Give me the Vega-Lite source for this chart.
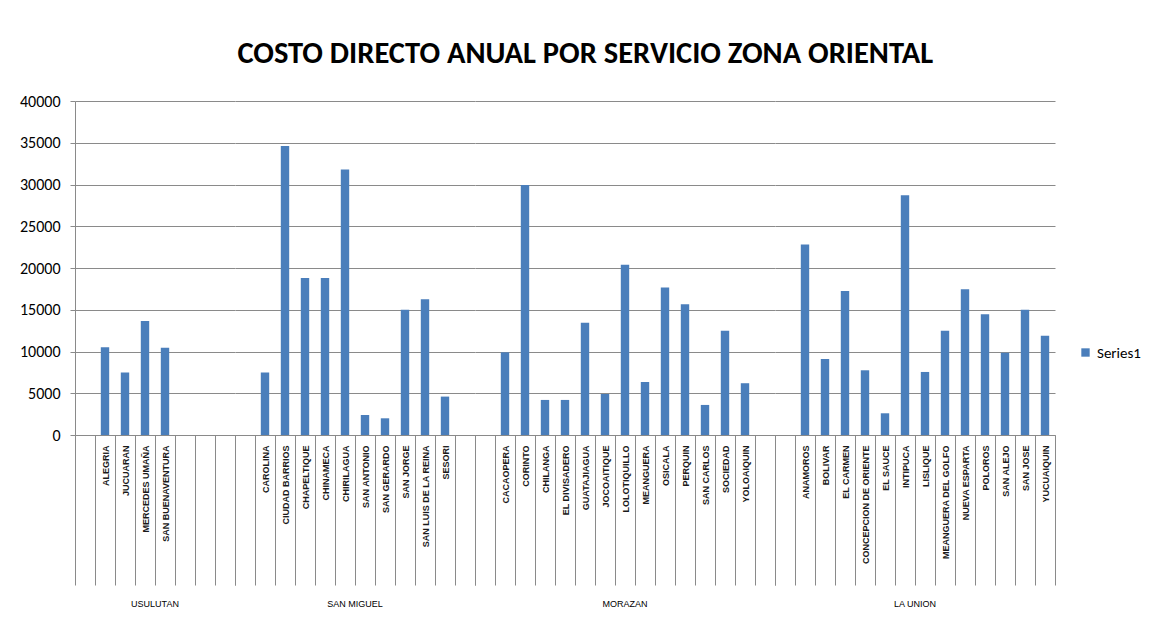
{
  "$schema": "https://vega.github.io/schema/vega-lite/v6.json",
  "background": "white",
  "padding": {"left": 19, "top": 38, "right": 5, "bottom": 5},
  "bounds": "flush",
  "title": {
    "text": "COSTO DIRECTO ANUAL POR SERVICIO ZONA ORIENTAL",
    "font": "Carlito, Liberation Sans Narrow, Liberation Sans",
    "fontSize": 30.5,
    "fontWeight": "bold",
    "color": "#000000",
    "anchor": "middle",
    "offset": 24,
    "dx": 5
  },
  "data": {
    "values": [
      {"zona": "USULUTAN", "municipio": "_1", "costo": null},
      {"zona": "USULUTAN", "municipio": "ALEGRIA", "costo": 10500},
      {"zona": "USULUTAN", "municipio": "JUCUARAN", "costo": 7500},
      {"zona": "USULUTAN", "municipio": "MERCEDES UMAÑA", "costo": 13650},
      {"zona": "USULUTAN", "municipio": "SAN BUENAVENTURA", "costo": 10450},
      {"zona": "USULUTAN", "municipio": "_2", "costo": null},
      {"zona": "USULUTAN", "municipio": "_3", "costo": null},
      {"zona": "USULUTAN", "municipio": "_4", "costo": null},
      {"zona": "SAN MIGUEL", "municipio": "_5", "costo": null},
      {"zona": "SAN MIGUEL", "municipio": "CAROLINA", "costo": 7500},
      {"zona": "SAN MIGUEL", "municipio": "CIUDAD BARRIOS", "costo": 34600},
      {"zona": "SAN MIGUEL", "municipio": "CHAPELTIQUE", "costo": 18800},
      {"zona": "SAN MIGUEL", "municipio": "CHINAMECA", "costo": 18800},
      {"zona": "SAN MIGUEL", "municipio": "CHIRILAGUA", "costo": 31800},
      {"zona": "SAN MIGUEL", "municipio": "SAN ANTONIO", "costo": 2400},
      {"zona": "SAN MIGUEL", "municipio": "SAN GERARDO", "costo": 2000},
      {"zona": "SAN MIGUEL", "municipio": "SAN JORGE", "costo": 15000},
      {"zona": "SAN MIGUEL", "municipio": "SAN LUIS DE LA REINA", "costo": 16250},
      {"zona": "SAN MIGUEL", "municipio": "SESORI", "costo": 4600},
      {"zona": "SAN MIGUEL", "municipio": "_6", "costo": null},
      {"zona": "MORAZAN", "municipio": "_7", "costo": null},
      {"zona": "MORAZAN", "municipio": "CACAOPERA", "costo": 9900},
      {"zona": "MORAZAN", "municipio": "CORINTO", "costo": 29950},
      {"zona": "MORAZAN", "municipio": "CHILANGA", "costo": 4200},
      {"zona": "MORAZAN", "municipio": "EL DIVISADERO", "costo": 4200},
      {"zona": "MORAZAN", "municipio": "GUATAJIAGUA", "costo": 13450},
      {"zona": "MORAZAN", "municipio": "JOCOAITIQUE", "costo": 4900},
      {"zona": "MORAZAN", "municipio": "LOLOTIQUILLO", "costo": 20400},
      {"zona": "MORAZAN", "municipio": "MEANGUERA", "costo": 6350},
      {"zona": "MORAZAN", "municipio": "OSICALA", "costo": 17650},
      {"zona": "MORAZAN", "municipio": "PERQUIN", "costo": 15650},
      {"zona": "MORAZAN", "municipio": "SAN CARLOS", "costo": 3600},
      {"zona": "MORAZAN", "municipio": "SOCIEDAD", "costo": 12500},
      {"zona": "MORAZAN", "municipio": "YOLOAIQUIN", "costo": 6200},
      {"zona": "MORAZAN", "municipio": "_8", "costo": null},
      {"zona": "LA UNION", "municipio": "_9", "costo": null},
      {"zona": "LA UNION", "municipio": "ANAMOROS", "costo": 22800},
      {"zona": "LA UNION", "municipio": "BOLIVAR", "costo": 9100},
      {"zona": "LA UNION", "municipio": "EL CARMEN", "costo": 17250},
      {"zona": "LA UNION", "municipio": "CONCEPCION DE ORIENTE", "costo": 7750},
      {"zona": "LA UNION", "municipio": "EL SAUCE", "costo": 2600},
      {"zona": "LA UNION", "municipio": "INTIPUCA", "costo": 28700},
      {"zona": "LA UNION", "municipio": "LISLIQUE", "costo": 7550},
      {"zona": "LA UNION", "municipio": "MEANGUERA DEL GOLFO", "costo": 12500},
      {"zona": "LA UNION", "municipio": "NUEVA ESPARTA", "costo": 17450},
      {"zona": "LA UNION", "municipio": "POLOROS", "costo": 14450},
      {"zona": "LA UNION", "municipio": "SAN ALEJO", "costo": 9850},
      {"zona": "LA UNION", "municipio": "SAN JOSE", "costo": 15000},
      {"zona": "LA UNION", "municipio": "YUCUAIQUIN", "costo": 11900}
    ]
  },
  "facet": {
    "column": {
      "field": "zona",
      "type": "nominal",
      "sort": ["USULUTAN", "SAN MIGUEL", "MORAZAN", "LA UNION"],
      "header": {
        "title": null,
        "labelOrient": "bottom",
        "labelFont": "Liberation Sans",
        "labelFontSize": 9,
        "labelColor": "#000000",
        "labelPadding": 165
      }
    }
  },
  "spacing": 0,
  "resolve": {"scale": {"x": "independent"}},
  "spec": {
    "width": {"step": 20},
    "height": 334,
    "mark": {"type": "bar", "width": {"band": 0.42}, "invalid": "show"},
    "encoding": {
      "x": {
        "field": "municipio",
        "type": "nominal",
        "sort": null,
        "scale": {"paddingInner": 0, "paddingOuter": 0},
        "axis": {
          "title": null,
          "labelAngle": -90,
          "labelAlign": "right",
          "labelBaseline": "middle",
          "labelExpr": "slice(datum.label, 0, 1) == '_' ? '' : datum.label",
          "labelFont": "Liberation Sans",
          "labelFontSize": 9,
          "labelFontWeight": "bold",
          "labelColor": "#1a1a1a",
          "labelPadding": -140,
          "tickBand": "extent",
          "tickSize": 150,
          "tickColor": "#8a8a8a",
          "domainColor": "#8a8a8a",
          "labelOverlap": false,
          "labelLimit": 0
        }
      },
      "y": {
        "field": "costo",
        "type": "quantitative",
        "scale": {"domain": [0, 40000], "nice": false},
        "axis": {
          "title": null,
          "format": "d",
          "values": [0, 5000, 10000, 15000, 20000, 25000, 30000, 35000, 40000],
          "grid": true,
          "gridColor": "#8a8a8a",
          "domainColor": "#8a8a8a",
          "tickColor": "#8a8a8a",
          "tickSize": 5,
          "labelPadding": 10,
          "labelFont": "Carlito, Liberation Sans",
          "labelFontSize": 16,
          "labelColor": "#000000"
        }
      },
      "color": {
        "datum": "Series1",
        "type": "nominal",
        "scale": {"range": ["#4a7ebb"]},
        "legend": {
          "title": null,
          "orient": "none",
          "legendX": 1003,
          "legendY": 244,
          "symbolType": "square",
          "symbolSize": 70,
          "labelFont": "Carlito, Liberation Sans",
          "labelFontSize": 15,
          "labelColor": "#000000"
        }
      }
    }
  },
  "config": {
    "view": {"stroke": null}
  }
}
